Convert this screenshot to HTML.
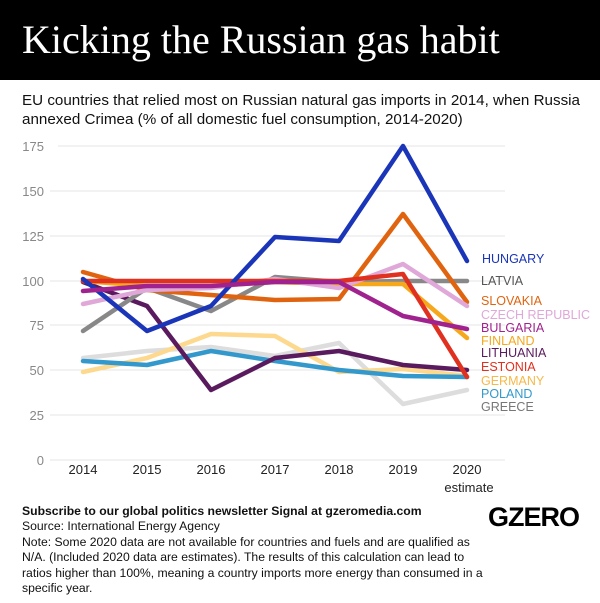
<!DOCTYPE html>
<html><head><meta charset="utf-8"><style>
body{margin:0;width:600px;height:603px;background:#fff;font-family:"Liberation Sans",sans-serif;overflow:hidden;position:relative}
.bar{position:absolute;left:0;top:0;width:600px;height:80px;background:#000;color:#fff;font-family:"Liberation Serif",serif;font-size:40px;line-height:80px;padding-left:22px;box-sizing:border-box}
.sub{position:absolute;left:22px;top:91px;font-size:15.2px;line-height:19px;color:#111;width:575px}
.foot{position:absolute;left:22px;top:504px;font-size:12.2px;line-height:15.4px;color:#111;width:467px}
.logo{position:absolute;left:488px;top:502px;font-size:27px;font-weight:bold;letter-spacing:-1px}
</style></head><body>
<div class="bar">Kicking the Russian gas habit</div>
<div class="sub">EU countries that relied most on Russian natural gas imports in 2014, when Russia annexed Crimea (% of all domestic fuel consumption, 2014-2020)</div>
<svg width="600" height="603" style="position:absolute;left:0;top:0" font-family="Liberation Sans, sans-serif">
<g stroke="#e6e6e6" stroke-width="1">
<line x1="58" x2="505" y1="146" y2="146"/><line x1="50" x2="505" y1="191" y2="191"/><line x1="50" x2="505" y1="236" y2="236"/><line x1="50" x2="505" y1="281" y2="281"/><line x1="50" x2="505" y1="325" y2="325"/><line x1="50" x2="505" y1="370" y2="370"/><line x1="50" x2="505" y1="415" y2="415"/><line x1="50" x2="505" y1="460" y2="460"/>
</g>
<g fill="#888" font-size="13" text-anchor="end">
<text x="44" y="151">175</text><text x="44" y="196">150</text><text x="44" y="241">125</text><text x="44" y="286">100</text><text x="44" y="330">75</text><text x="44" y="375">50</text><text x="44" y="420">25</text><text x="44" y="465">0</text>
</g>
<g fill="#222" font-size="13" text-anchor="middle">
<text x="83" y="474">2014</text><text x="147" y="474">2015</text><text x="211" y="474">2016</text><text x="275" y="474">2017</text><text x="339" y="474">2018</text><text x="403" y="474">2019</text><text x="467" y="474">2020</text><text x="469" y="492">estimate</text>
</g>
<g fill="none" stroke-width="4.5" stroke-linejoin="round" stroke-linecap="round">
<polyline stroke="#dddddd" points="83,358 147,351 211,347 275,356 339,343 403,404 467,390"/>
<polyline stroke="#fdd98f" points="83,372 147,358 211,334 275,336 339,372 403,369 467,376"/>
<polyline stroke="#3399cc" points="83,361 147,365 211,351 275,361 339,370 403,376 467,377"/>
<polyline stroke="#5a1a5e" points="83,282 147,306 211,390 275,358 339,351 403,365 467,370"/>
<polyline stroke="#888888" points="83,331 147,288 211,311 275,277 339,282 403,281 467,281"/>
<polyline stroke="#e06410" points="83,272 147,290 211,295 275,300 339,299 403,214 467,302"/>
<polyline stroke="#f5a81c" points="83,281 147,286 211,286 275,282 339,284 403,284 467,338"/>
<polyline stroke="#e0a8d8" points="83,304 147,290 211,288 275,279 339,288 403,264 467,306"/>
<polyline stroke="#e03020" points="83,281 147,281 211,281 275,281 339,281 403,274 467,377"/>
<polyline stroke="#1a35b8" points="83,279 147,331 211,306 275,237 339,241 403,146 467,261"/>
<polyline stroke="#a0228e" points="83,291 147,286 211,286 275,282 339,282 403,316 467,329"/>
</g>
<g font-size="12.5">
<text x="482" y="263" fill="#1a35b8">HUNGARY</text>
<text x="481" y="285" fill="#555">LATVIA</text>
<text x="481" y="305" fill="#e06410">SLOVAKIA</text>
<text x="481" y="319" fill="#e0a8d8">CZECH REPUBLIC</text>
<text x="481" y="332" fill="#a0228e">BULGARIA</text>
<text x="481" y="345" fill="#f5a81c">FINLAND</text>
<text x="481" y="357" fill="#5a1a5e">LITHUANIA</text>
<text x="481" y="371" fill="#e03020">ESTONIA</text>
<text x="481" y="385" fill="#f5b84a">GERMANY</text>
<text x="481" y="398" fill="#3399cc">POLAND</text>
<text x="481" y="411" fill="#777">GREECE</text>
</g>
</svg>
<div class="foot"><b>Subscribe to our global politics newsletter Signal at gzeromedia.com</b><br>Source: International Energy Agency<br>Note: Some 2020 data are not available for countries and fuels and are qualified as N/A. (Included 2020 data are estimates). The results of this calculation can lead to ratios higher than 100%, meaning a country imports more energy than consumed in a specific year.</div>
<div class="logo">GZERO</div>
</body></html>
